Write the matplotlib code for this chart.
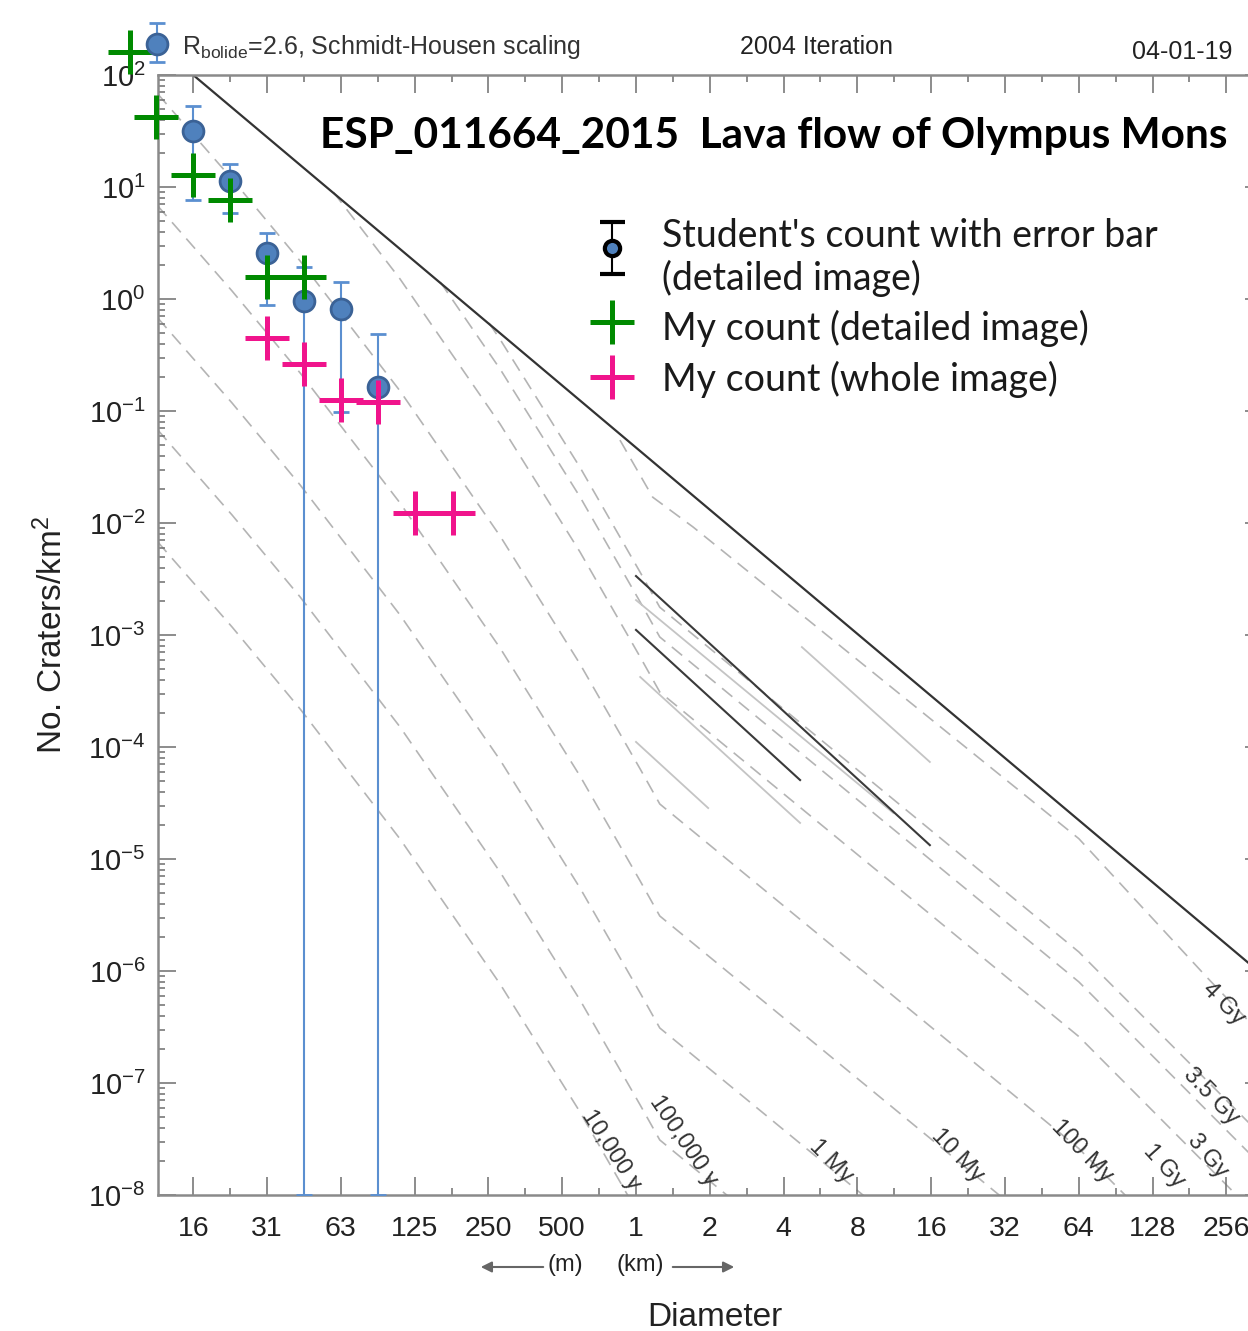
import matplotlib
matplotlib.use("Agg")
import matplotlib.pyplot as plt
from matplotlib.ticker import FixedLocator, FixedFormatter, LogLocator, NullFormatter

plt.rcParams['font.family'] = ['Liberation Sans', 'DejaVu Sans']
plt.rcParams['mathtext.fontset'] = 'custom'
plt.rcParams['mathtext.rm'] = 'Liberation Sans'
plt.rcParams['mathtext.it'] = 'Liberation Sans:italic'
plt.rcParams['mathtext.bf'] = 'Liberation Sans:bold'

W, H = 1248, 1331

# ---- isochrons (diameter km, craters/km^2) ----
iso_10ky_D = [0.0112, 0.0225, 0.0427, 0.109, 0.279, 0.591, 1.04, 1.25]
iso_10ky_N = [6.77e-3, 1.18e-3, 2.18e-4, 1.51e-5, 7.65e-7, 5.51e-8, 6.36e-9, 3.10e-9]
iso_100ky_D = [0.0112, 0.0225, 0.0427, 0.109, 0.279, 0.591, 1.04, 1.25, 64]
iso_100ky_N = [0.0677, 0.0118, 2.18e-3, 1.51e-4, 7.65e-6, 5.51e-7, 6.36e-8, 3.10e-8, 2.60e-11]
iso_1My_D = [0.0112, 0.0225, 0.0427, 0.109, 0.279, 0.591, 1.04, 1.25, 64]
iso_1My_N = [0.677, 0.118, 0.0218, 1.51e-3, 7.65e-5, 5.51e-6, 6.36e-7, 3.10e-7, 2.60e-10]
iso_10My_D = [0.0112, 0.0225, 0.0427, 0.109, 0.279, 0.591, 1.04, 1.25, 64]
iso_10My_N = [6.77, 1.18, 0.218, 0.0151, 7.65e-4, 5.51e-5, 6.36e-6, 3.10e-6, 2.60e-9]
iso_100My_D = [0.0112, 0.0225, 0.0427, 0.109, 0.279, 0.591, 1.04, 1.25, 64, 400]
iso_100My_N = [67.7, 11.8, 2.18, 0.151, 7.65e-3, 5.51e-4, 6.36e-5, 3.10e-5, 2.60e-8, 4.61e-10]
iso_1Gy_D = [0.0583, 0.109, 0.279, 0.591, 1.04, 1.25, 64, 400]
iso_1Gy_N = [9.0, 1.51, 0.0765, 5.51e-3, 6.36e-4, 3.10e-4, 2.60e-7, 4.61e-9]
iso_3Gy_D = [0.159, 0.279, 0.591, 1.04, 1.25, 64, 400]
iso_3Gy_N = [1.42, 0.237, 0.0171, 1.97e-3, 9.6e-4, 8.0e-7, 1.42e-8]
iso_35Gy_D = [0.2515, 0.279, 0.591, 1.04, 1.25, 64, 400]
iso_35Gy_N = [0.61, 0.436, 0.0314, 3.63e-3, 1.77e-3, 1.48e-6, 2.63e-8]
iso_4Gy_D = [0.86, 1.17, 1.71, 21, 64, 213, 400]
iso_4Gy_N = [0.055, 0.017, 9.2e-3, 1.09e-4, 1.52e-5, 8.8e-7, 2.07e-7]

sat_D = [0.015625, 400]
sat_N = [100, 7.6e-7]

dark_a_D, dark_a_N = [1.0, 15.8], [3.36e-3, 1.33e-5]
dark_b_D, dark_b_N = [1.0, 4.67], [1.11e-3, 5.07e-5]
grey_a_D, grey_a_N = [1.0, 11.2], [2.05e-3, 2.58e-5]
grey_b_D, grey_b_N = [1.04, 4.67], [4.22e-4, 2.10e-5]
grey_c_D, grey_c_N = [1.0, 1.97], [1.11e-4, 2.85e-5]
grey_d_D, grey_d_N = [4.75, 15.8], [7.8e-4, 7.35e-5]

# ---- crater counts ----
student_D = [0.015625, 0.0221, 0.03125, 0.0442, 0.0625, 0.0884]
student_N = [31.8, 11.2, 2.58, 0.953, 0.82, 0.163]
student_lo = [7.65, 5.82, 0.883, 1e-8, 0.0986, 1e-8]
student_hi = [53.2, 16.0, 3.86, 1.94, 1.43, 0.484]

detail_D = [0.0086, 0.01105, 0.015625, 0.0221, 0.03125, 0.0442]
detail_N = [160, 42.2, 12.7, 7.59, 1.57, 1.57]

whole_D = [0.03125, 0.0442, 0.0625, 0.0884, 0.125, 0.18]
whole_N = [0.45, 0.265, 0.1245, 0.120, 0.0122, 0.0122]

xtick_vals = [1/64, 1/32, 1/16, 1/8, 1/4, 1/2, 1, 2, 4, 8, 16, 32, 64, 128, 256]
xtick_labels = ["16", "31", "63", "125", "250", "500", "1", "2", "4", "8", "16", "32", "64", "128", "256"]
xminor_vals = [v * 2 ** 0.5 for v in xtick_vals]

iso_labels = [("10,000 y", 611, 1150, -57), ("100,000 y", 683, 1141, -56),
              ("1 My", 831, 1161, -45), ("10 My", 957, 1156, -46),
              ("100 My", 1082, 1151, -46), ("1 Gy", 1164, 1166, -48),
              ("3 Gy", 1207, 1156, -50), ("3.5 Gy", 1211, 1096, -46),
              ("4 Gy", 1223, 1004, -45)]

fig = plt.figure(figsize=(W / 100, H / 100), dpi=100)
ax = fig.add_axes([158 / W, 1 - 1195 / H, (1263 - 158) / W, 1120 / H])
ax.set_xscale('log', base=2)
ax.set_yscale('log')
ax.set_xlim(2 ** -6.477, 2 ** 8.496)
ax.set_ylim(1e-8, 1e2)

dash = dict(color='#b4b4b4', lw=1.2, ls=(0, (8, 5)), zorder=1)
for d, n in [(iso_10ky_D, iso_10ky_N), (iso_100ky_D, iso_100ky_N), (iso_1My_D, iso_1My_N),
             (iso_10My_D, iso_10My_N), (iso_100My_D, iso_100My_N), (iso_1Gy_D, iso_1Gy_N),
             (iso_3Gy_D, iso_3Gy_N), (iso_35Gy_D, iso_35Gy_N), (iso_4Gy_D, iso_4Gy_N)]:
    ax.plot(d, n, **dash)

for d, n in [(grey_a_D, grey_a_N), (grey_b_D, grey_b_N), (grey_c_D, grey_c_N), (grey_d_D, grey_d_N)]:
    ax.plot(d, n, color='#c4c4c4', lw=1.3, zorder=1)
for d, n in [(dark_a_D, dark_a_N), (dark_b_D, dark_b_N)]:
    ax.plot(d, n, color='#3a3a3a', lw=1.5, zorder=2)
ax.plot(sat_D, sat_N, color='#333333', lw=1.6, zorder=2)

# student's count
yerr = [[n - lo for n, lo in zip(student_N, student_lo)],
        [hi - n for n, hi in zip(student_N, student_hi)]]
ax.errorbar(student_D, student_N, yerr=yerr, fmt='o', ms=15, mfc='#4f81bd', mec='#3b6296',
            mew=2, ecolor='#5b8fd0', elinewidth=1.5, capsize=6, capthick=1.5, zorder=4)

ax.plot(detail_D, detail_N, ls='none', marker='+', ms=31, mew=3.6, color='#008a00',
        clip_on=False, zorder=5)
ax.plot(whole_D, whole_N, ls='none', marker='+', ms=31, mew=3.6, color='#f0148c', zorder=5)

ax.xaxis.set_major_locator(FixedLocator(xtick_vals))
ax.xaxis.set_major_formatter(FixedFormatter(xtick_labels))
ax.xaxis.set_minor_locator(FixedLocator(xminor_vals))
ax.xaxis.set_minor_formatter(NullFormatter())
ax.yaxis.set_major_locator(LogLocator(base=10, numticks=20))
ax.yaxis.set_minor_locator(LogLocator(base=10, subs=range(2, 10), numticks=200))
ax.yaxis.set_minor_formatter(NullFormatter())

ax.tick_params(which='both', direction='in', top=True, right=True, color='#6e6e6e', width=1.1)
ax.tick_params(which='major', length=13)
ax.tick_params(which='minor', length=5)
ax.tick_params(axis='x', which='major', labelsize=20.5, pad=15, labelcolor='#222222')
ax.tick_params(axis='y', which='major', labelsize=21, pad=9, labelcolor='#222222')
for s in ax.spines.values():
    s.set_color('#8a8a8a')
    s.set_linewidth(1.8)

# overlay in pixel coordinates for annotations
ov = fig.add_axes([0, 0, 1, 1], zorder=6)
ov.set_xlim(0, W)
ov.set_ylim(H, 0)
ov.axis('off')
ov.patch.set_alpha(0)

for txt, x, y, rot in iso_labels:
    ov.text(x, y, txt, rotation=rot, ha='center', va='center', rotation_mode='anchor',
            fontsize=17, color='#333333')

ov.text(52, 635, 'No. Craters/km$^2$', rotation=90, ha='center', va='center', fontsize=24,
        color='#222222')
ov.text(715, 1318, 'Diameter', ha='center', va='center', fontsize=24, color='#222222')
ov.text(565, 1265, '(m)', ha='center', va='center', fontsize=17, color='#222222')
ov.text(640, 1265, '(km)', ha='center', va='center', fontsize=17, color='#222222')
ov.annotate('', xy=(478, 1267), xytext=(546, 1267),
            arrowprops=dict(arrowstyle='-|>', color='#666666', lw=1.5, mutation_scale=16))
ov.annotate('', xy=(737, 1267), xytext=(670, 1267),
            arrowprops=dict(arrowstyle='-|>', color='#666666', lw=1.5, mutation_scale=16))

# header
ov.errorbar([157], [44], yerr=[[21], [18]], fmt='o', ms=15, mfc='#4f81bd', mec='#3b6296',
            mew=2, ecolor='#5b8fd0', elinewidth=1.5, capsize=6, capthick=1.5, zorder=3)
ov.text(182, 54, r'R$_{\mathdefault{bolide}}$=2.6, Schmidt-Housen scaling', fontsize=18,
        color='#333333', va='baseline')
ov.text(816, 54, '2004 Iteration', fontsize=18, color='#222222', ha='center', va='baseline')
ov.text(1232, 59, '04-01-19', fontsize=18, color='#222222', ha='right', va='baseline')

ov.text(320, 148, 'ESP_011664_2015  Lava flow of Olympus Mons', fontsize=30.5, fontweight='bold',
        family=['Lato', 'DejaVu Sans'], color='black', va='baseline')

# legend
ov.errorbar([612], [248], yerr=[[26], [26]], fmt='o', ms=11, mfc='#4f81bd', mec='black',
            mew=3, ecolor='black', elinewidth=1.5, capsize=9, capthick=1.5)
ov.plot([612], [322], marker='+', ms=31, mew=3.6, color='#008a00')
ov.plot([612], [377], marker='+', ms=31, mew=3.6, color='#f0148c')
leg_font = dict(fontsize=27, family=['Lato', 'DejaVu Sans'], color='#1a1a1a', va='baseline')
ov.text(662, 247, "Student's count with error bar", **leg_font)
ov.text(662, 290, "(detailed image)", **leg_font)
ov.text(662, 340, "My count (detailed image)", **leg_font)
ov.text(662, 391, "My count (whole image)", **leg_font)

fig.savefig('out.png', dpi=100)
